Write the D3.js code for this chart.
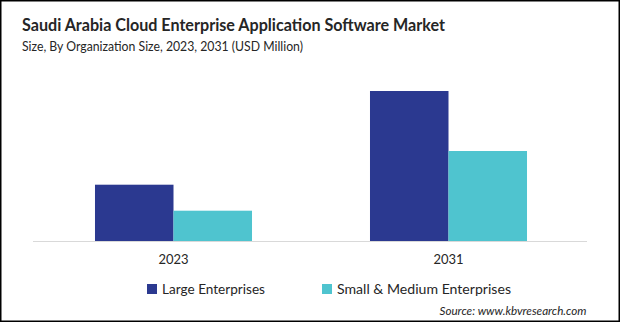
<!DOCTYPE html>
<html><head><meta charset="utf-8">
<script src="https://cdn.jsdelivr.net/npm/d3@7"></script>
<style>html,body{margin:0;padding:0;background:#fff;}svg{display:block;}</style>
</head><body>
<svg id="chart" width="620" height="322"></svg>
<script>
const categories = ["2023", "2031"];
const seriesNames = ["Large Enterprises", "Small & Medium Enterprises"];
const largeValues = [56.3, 150];
const smallValues = [30.3, 90];
const colors = ["#2B3990", "#4FC4CF"];

const svg = d3.select("#chart");
const W = 620, H = 322;
const font = "Lato, 'Open Sans', sans-serif";

svg.append("rect").attr("x", 0.75).attr("y", 0.75).attr("width", W - 1.5).attr("height", H - 1.5)
  .attr("fill", "#fff").attr("stroke", "#000").attr("stroke-width", 1.5);

svg.append("text").attr("x", 22).attr("y", 30.5).attr("font-family", font).attr("font-weight", 700)
  .attr("font-size", 16.5).attr("fill", "#262626")
  .attr("textLength", 423).attr("lengthAdjust", "spacingAndGlyphs")
  .text("Saudi Arabia Cloud Enterprise  Application Software Market");
svg.append("text").attr("x", 22).attr("y", 51).attr("font-family", font)
  .attr("font-size", 13).attr("fill", "#262626")
  .attr("textLength", 281).attr("lengthAdjust", "spacingAndGlyphs")
  .text("Size, By Organization Size, 2023, 2031 (USD Million)");

const x = d3.scaleBand().domain(categories).range([36, 586]).paddingInner(0.429).paddingOuter(0.2145);
const x1 = d3.scaleBand().domain(seriesNames).range([0, x.bandwidth()]);
const y = d3.scaleLinear().domain([0, 150]).range([241, 91]);

const data = categories.map((c, i) => ({cat: c, vals: [largeValues[i], smallValues[i]]}));
const g = svg.append("g");
g.selectAll("g.grp").data(data).join("g").attr("class", "grp")
  .attr("transform", d => `translate(${x(d.cat)},0)`)
  .selectAll("rect").data(d => d.vals.map((v, j) => ({v, s: seriesNames[j], j})))
  .join("rect")
  .attr("x", d => x1(d.s)).attr("width", x1.bandwidth())
  .attr("y", d => y(d.v)).attr("height", d => y(0) - y(d.v))
  .attr("fill", d => colors[d.j]);

// baseline
svg.append("line").attr("x1", 33).attr("x2", 587).attr("y1", y(0) + 0.5).attr("y2", y(0) + 0.5)
  .attr("stroke", "#d9d9d9").attr("stroke-width", 1);

const xAxis = svg.append("g").attr("transform", `translate(0,${y(0)})`)
  .call(d3.axisBottom(x).tickSize(0).tickPadding(14));
xAxis.select(".domain").remove();
xAxis.selectAll("text").attr("font-family", font).attr("font-size", 13).attr("fill", "#262626");

// legend
const legendX = [147, 322];
const legendW = [103, 174];
const leg = svg.append("g");
seriesNames.forEach((s, i) => {
  leg.append("rect").attr("x", legendX[i]).attr("y", 284).attr("width", 10).attr("height", 10).attr("fill", colors[i]);
  leg.append("text").attr("x", legendX[i] + 15).attr("y", 294).attr("font-family", font)
    .attr("font-size", 13).attr("fill", "#262626")
    .attr("textLength", legendW[i]).attr("lengthAdjust", "spacingAndGlyphs").text(s);
});

svg.append("text").attr("x", 439.5).attr("y", 315).attr("font-family", font)
  .attr("font-style", "italic").attr("font-size", 11).attr("fill", "#262626")
  .attr("textLength", 147).attr("lengthAdjust", "spacingAndGlyphs")
  .text("Source: www.kbvresearch.com");
</script>
</body></html>
